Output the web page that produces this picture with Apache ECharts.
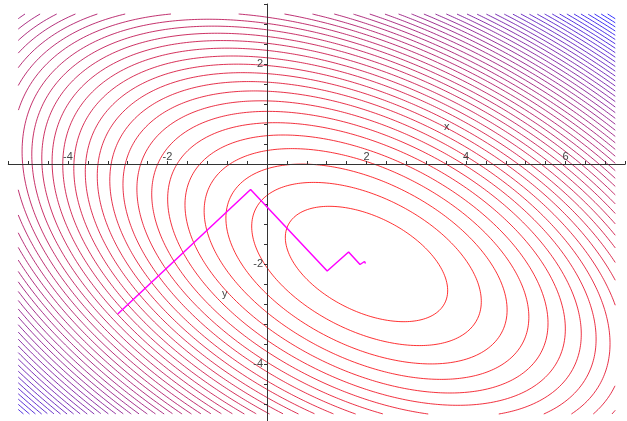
<!DOCTYPE html>
<html><head><meta charset="utf-8">
<script src="https://cdn.jsdelivr.net/npm/echarts@6/dist/echarts.min.js"></script>
<style>html,body{margin:0;padding:0;background:#fff}#c{width:627px;height:421px}</style>
</head><body><div id="c"></div>
<script>
// Quadratic objective f(x,y) = A*(x-cx)^2 + B*(x-cx)*(y-cy) + C*(y-cy)^2
const fCenter = [2, -2];
const fCoef = [1, 1.3, 2];
const contourCount = 50;
const levelStep = 2.1;
const domainX = [-5, 7];
const domainY = [-5, 3];
// steepest-descent path
const pathX = [-3, -0.33, 1.21, 1.64, 1.87, 1.96, 1.98];
const pathY = [-3, -0.51, -2.14, -1.76, -2.01, -1.95, -1.99];
const xTickLabels = [-4, -2, 2, 4, 6];
const yTickLabels = [-4, -2, 2];
const lowColor = [255, 0, 0];
const highColor = [0, 0, 255];
const colorGamma = 1.2;

function clipSeg(x0, y0, x1, y1) {
  let t0 = 0, t1 = 1;
  const dx = x1 - x0, dy = y1 - y0;
  const p = [-dx, dx, -dy, dy];
  const q = [x0 - domainX[0], domainX[1] - x0, y0 - domainY[0], domainY[1] - y0];
  for (let i = 0; i < 4; i++) {
    if (p[i] === 0) { if (q[i] < 0) return null; }
    else {
      const r = q[i] / p[i];
      if (p[i] < 0) { if (r > t1) return null; if (r > t0) t0 = r; }
      else { if (r < t0) return null; if (r < t1) t1 = r; }
    }
  }
  return [t0, t1, x0 + t0 * dx, y0 + t0 * dy, x0 + t1 * dx, y0 + t1 * dy];
}

function contourPieces(level) {
  const N = 1440, pts = [];
  const [A, B, C] = fCoef;
  for (let i = 0; i <= N; i++) {
    const th = 2 * Math.PI * i / N, c = Math.cos(th), s = Math.sin(th);
    const r = Math.sqrt(level / (A * c * c + B * c * s + C * s * s));
    pts.push([fCenter[0] + r * c, fCenter[1] + r * s]);
  }
  const pieces = []; let cur = null; let firstStartsAtZero = false;
  for (let i = 0; i < N; i++) {
    const cl = clipSeg(pts[i][0], pts[i][1], pts[i + 1][0], pts[i + 1][1]);
    if (!cl) { if (cur) { pieces.push(cur); cur = null; } continue; }
    if (cur && cl[0] === 0) cur.push([cl[4], cl[5]]);
    else {
      if (cur) pieces.push(cur);
      cur = [[cl[2], cl[3]], [cl[4], cl[5]]];
      if (i === 0 && cl[0] === 0) firstStartsAtZero = true;
    }
    if (cl[1] < 1) { pieces.push(cur); cur = null; }
  }
  if (cur) {
    if (pieces.length && firstStartsAtZero) pieces[0] = cur.concat(pieces[0].slice(1));
    else pieces.push(cur);
  }
  return pieces;
}

const series = [];
for (let k = 1; k <= contourCount; k++) {
  const t = Math.pow((k - 1) / (contourCount - 1), colorGamma);
  const col = 'rgb(' + lowColor.map((v, i) => Math.round(v + (highColor[i] - v) * t)).join(',') + ')';
  contourPieces(levelStep * k).forEach(pc => {
    series.push({ type: 'line', data: pc, showSymbol: false, silent: true, animation: false,
      lineStyle: { color: col, width: 1, opacity: 0.8 }, z: 2 });
  });
}
series.push({ type: 'line', data: pathX.map((x, i) => [x, pathY[i]]), showSymbol: false,
  animation: false, lineStyle: { color: '#ff00ff', width: 1.5 }, z: 5 });

function isLabel(v, list) { return list.some(l => Math.abs(l - v) < 1e-6); }

const X_MIN = -5.2, X_MAX = 7.2, Y_MIN = -5.2, Y_MAX = 3.2;
const GRID = { left: 8.3, top: 4, width: 616.9, height: 420 };

const chart = echarts.init(document.getElementById('c'), null, { renderer: 'canvas' });
chart.setOption({
  animation: false,
  backgroundColor: '#fff',
  grid: Object.assign({ containLabel: false, outerBoundsMode: 'none' }, GRID),
  xAxis: {
    type: 'value', min: X_MIN, max: X_MAX, interval: 0.4, position: 'top', z: 3,
    offset: -(Y_MAX / (Y_MAX - Y_MIN)) * GRID.height,
    axisLine: { onZero: false, lineStyle: { color: '#333', width: 1 } },
    axisTick: { length: 3, lineStyle: { color: '#333' } },
    splitLine: { show: false },
    axisLabel: { margin: 2, fontSize: 11, color: '#444', fontFamily: 'Liberation Sans',
      showMinLabel: true, showMaxLabel: true, hideOverlap: false,
      formatter: v => isLabel(v, xTickLabels) ? String(Math.round(v)) : '' }
  },
  yAxis: {
    type: 'value', min: Y_MIN, max: Y_MAX, interval: 0.4, position: 'left', z: 3,
    offset: -(-X_MIN / (X_MAX - X_MIN)) * GRID.width,
    axisLine: { onZero: false, lineStyle: { color: '#333', width: 1 } },
    axisTick: { length: 3, lineStyle: { color: '#333' } },
    splitLine: { show: false },
    axisLabel: { margin: 4, fontSize: 11, color: '#444', fontFamily: 'Liberation Sans',
      showMinLabel: true, showMaxLabel: true, hideOverlap: false,
      formatter: v => isLabel(v, yTickLabels) ? String(Math.round(v)) : '' }
  },
  graphic: [
    { type: 'text', left: 444, top: 121, style: { text: 'x', fontSize: 11, fill: '#444', fontFamily: 'Liberation Sans' } },
    { type: 'text', left: 222, top: 288, style: { text: 'y', fontSize: 11, fill: '#444', fontFamily: 'Liberation Sans' } }
  ],
  series: series
});
</script>
</body></html>
